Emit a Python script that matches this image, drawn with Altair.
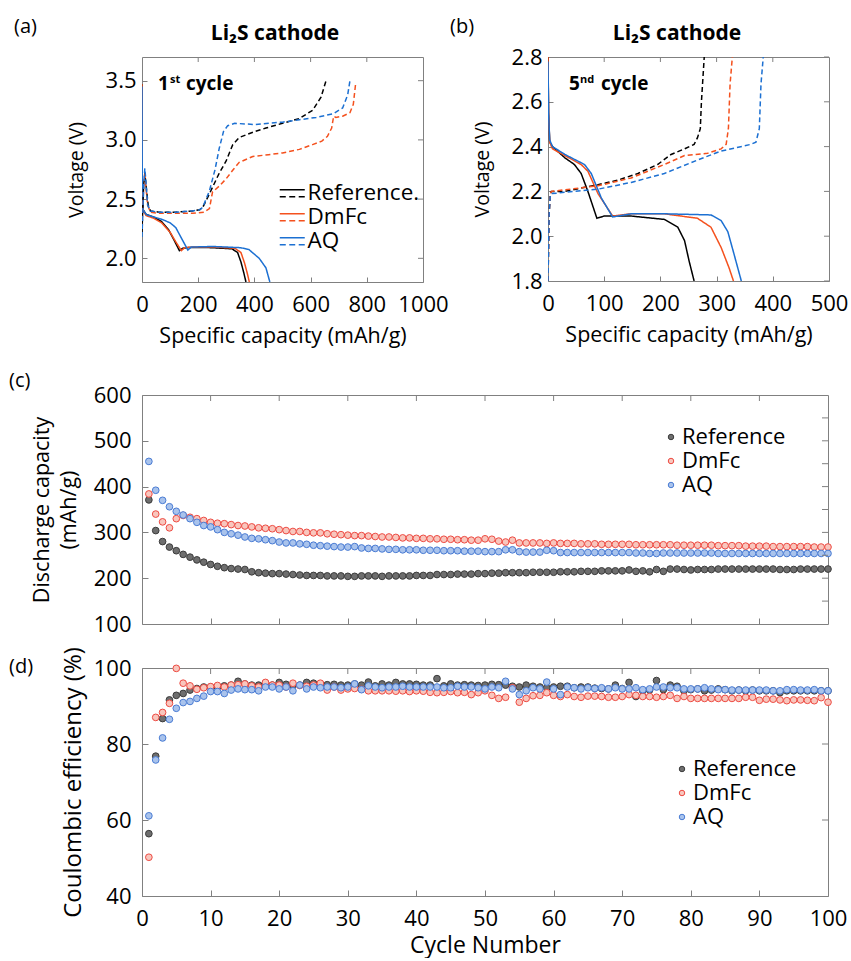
import altair as alt
import pandas as pd

FONT = "Open Sans"
SERIES = ["Reference", "DmFc", "AQ"]
LINE_COLORS = ["#000000", "#F4511E", "#1C70D2"]
PT_FILL = ["#6E6E6E", "#F8C6BD", "#A9C3EC"]
PT_STROKE = ["#3C3C3C", "#EE4B43", "#4A7CD4"]
GRAY = "#808080"

# ---------------- (a) 1st cycle voltage profiles ----------------
a_ref_dis_cap = [0, 1, 4, 15, 40, 70, 95, 115, 133, 145, 170, 250, 320, 340, 352, 362, 370]
a_ref_dis_v = [3.47, 2.60, 2.41, 2.37, 2.35, 2.31, 2.24, 2.15, 2.065, 2.085, 2.092, 2.09, 2.08, 2.05, 1.97, 1.88, 1.80]
a_dmfc_dis_cap = [0, 1, 4, 15, 40, 70, 100, 120, 140, 152, 180, 260, 330, 352, 365, 375, 382]
a_dmfc_dis_v = [3.47, 2.60, 2.40, 2.36, 2.34, 2.30, 2.22, 2.14, 2.065, 2.09, 2.095, 2.095, 2.085, 2.05, 1.96, 1.87, 1.80]
a_aq_dis_cap = [0, 1, 4, 15, 40, 70, 100, 120, 145, 163, 175, 250, 350, 380, 417, 441, 455]
a_aq_dis_v = [3.45, 2.60, 2.41, 2.37, 2.35, 2.33, 2.30, 2.26, 2.15, 2.07, 2.095, 2.10, 2.09, 2.075, 2.00, 1.92, 1.80]

a_ref_ch_cap = [0, 3, 6, 10, 15, 22, 30, 60, 120, 180, 205, 216, 235, 251, 275, 299, 323, 346, 400, 441, 500, 560, 607, 637, 655]
a_ref_ch_v = [2.22, 2.45, 2.62, 2.72, 2.60, 2.45, 2.40, 2.39, 2.39, 2.40, 2.41, 2.43, 2.52, 2.60, 2.72, 2.82, 2.96, 3.02, 3.07, 3.10, 3.14, 3.18, 3.25, 3.36, 3.50]
a_dmfc_ch_cap = [0, 3, 6, 10, 14, 20, 30, 60, 120, 180, 220, 240, 251, 275, 299, 325, 346, 394, 450, 500, 560, 607, 640, 660, 675, 682, 690, 714, 740, 752, 760]
a_dmfc_ch_v = [2.25, 2.45, 2.60, 2.72, 2.60, 2.45, 2.39, 2.38, 2.38, 2.38, 2.39, 2.42, 2.56, 2.61, 2.67, 2.75, 2.81, 2.86, 2.875, 2.89, 2.92, 2.96, 2.99, 3.03, 3.10, 3.20, 3.19, 3.20, 3.23, 3.30, 3.47]
a_aq_ch_cap = [0, 3, 6, 10, 14, 20, 30, 60, 120, 180, 205, 216, 240, 260, 275, 290, 305, 330, 400, 500, 560, 620, 680, 714, 732, 740]
a_aq_ch_v = [2.18, 2.40, 2.60, 2.76, 2.65, 2.45, 2.40, 2.39, 2.39, 2.40, 2.41, 2.43, 2.57, 2.75, 2.93, 3.07, 3.12, 3.14, 3.13, 3.15, 3.17, 3.19, 3.22, 3.27, 3.38, 3.50]

# ---------------- (b) 5th cycle voltage profiles ----------------
b_ref_dis_cap = [0, 1, 3, 8, 30, 47, 59, 71, 87, 100, 148, 207, 231, 243, 251, 260]
b_ref_dis_v = [2.80, 2.55, 2.42, 2.40, 2.35, 2.32, 2.28, 2.20, 2.08, 2.09, 2.09, 2.075, 2.04, 1.98, 1.89, 1.80]
b_dmfc_dis_cap = [0, 1, 3, 8, 30, 59, 71, 89, 115, 148, 207, 266, 290, 308, 322, 330]
b_dmfc_dis_v = [2.80, 2.55, 2.42, 2.39, 2.36, 2.32, 2.29, 2.19, 2.09, 2.10, 2.10, 2.08, 2.04, 1.95, 1.86, 1.80]
b_aq_dis_cap = [0, 1, 3, 8, 30, 65, 77, 95, 115, 148, 207, 290, 308, 320, 331, 344]
b_aq_dis_v = [2.78, 2.55, 2.43, 2.40, 2.365, 2.32, 2.28, 2.17, 2.086, 2.10, 2.10, 2.095, 2.07, 2.02, 1.92, 1.80]

b_ref_ch_cap = [0, 2, 4, 6, 30, 89, 124, 160, 195, 219, 243, 260, 266, 271, 273, 278]
b_ref_ch_v = [1.80, 2.10, 2.19, 2.20, 2.20, 2.23, 2.25, 2.28, 2.32, 2.365, 2.39, 2.41, 2.44, 2.48, 2.60, 2.80]
b_dmfc_ch_cap = [0, 2, 4, 6, 89, 148, 207, 243, 284, 308, 317, 321, 324, 328]
b_dmfc_ch_v = [1.80, 2.10, 2.19, 2.20, 2.225, 2.26, 2.32, 2.36, 2.37, 2.39, 2.41, 2.48, 2.68, 2.80]
b_aq_ch_cap = [0, 2, 4, 6, 89, 148, 207, 266, 308, 361, 370, 376, 379, 383]
b_aq_ch_v = [1.80, 2.10, 2.18, 2.19, 2.21, 2.24, 2.28, 2.34, 2.38, 2.41, 2.42, 2.48, 2.68, 2.80]

# ---------------- (c) discharge capacity vs cycle ----------------
cycles = list(range(1, 101))
c_ref = [371, 304, 280, 268, 260, 252, 246, 240, 235, 230,
         226, 223, 221, 220, 219, 214, 212, 211, 210, 210,
         209, 208, 207, 206, 206, 206, 205, 205, 205, 204,
         204, 205, 205, 205, 204, 205, 205, 205, 205, 206,
         206, 206, 208, 208, 208, 209, 209, 209, 210, 210,
         211, 211, 212, 212, 212, 212, 213, 213, 213, 213,
         214, 214, 214, 215, 215, 215, 216, 216, 216, 216,
         218, 215, 216, 214, 219, 215, 220, 220, 219, 218,
         219, 219, 219, 220, 220, 220, 220, 220, 220, 220,
         220, 220, 219, 219, 219, 220, 220, 220, 220, 220]
c_dmfc = [384, 340, 323, 310, 330, 337, 333, 330, 326, 322,
          320, 319, 317, 315, 314, 312, 310, 309, 308, 306,
          304, 302, 302, 300, 299, 299, 297, 296, 295, 294,
          293, 293, 292, 291, 290, 290, 289, 288, 288, 287,
          287, 286, 286, 285, 285, 284, 284, 283, 283, 286,
          285, 281, 279, 283, 277, 277, 277, 277, 276, 277,
          276, 276, 276, 275, 275, 275, 274, 274, 274, 274,
          274, 273, 273, 273, 273, 273, 273, 272, 272, 272,
          272, 272, 272, 271, 271, 271, 271, 270, 270, 270,
          270, 269, 269, 269, 269, 269, 269, 268, 268, 268]
c_aq = [455, 392, 370, 356, 346, 338, 330, 322, 315, 312,
        306, 300, 297, 294, 290, 287, 286, 284, 282, 279,
        277, 277, 275, 274, 272, 271, 270, 269, 268, 268,
        269, 266, 265, 265, 264, 263, 263, 262, 262, 262,
        261, 261, 261, 260, 260, 260, 259, 259, 259, 258,
        258, 258, 262, 262, 258, 257, 257, 257, 261, 260,
        256, 256, 256, 256, 256, 256, 256, 256, 256, 256,
        256, 255, 255, 254, 254, 255, 255, 255, 255, 255,
        255, 255, 255, 254, 254, 254, 254, 254, 254, 254,
        254, 254, 254, 254, 254, 254, 254, 254, 254, 254]

# ---------------- (d) coulombic efficiency vs cycle ----------------
d_ref = [56.4, 76.8, 86.7, 91.6, 92.8, 93.3, 94.2, 94.6, 95.0, 95.0,
         95.0, 95.3, 95.5, 96.5, 95.8, 95.5, 95.5, 96.0, 95.5, 96.2,
         95.7, 95.5, 95.5, 96.2, 96.0, 95.8, 95.6, 95.7, 95.5, 95.5,
         95.8, 95.5, 96.3, 95.3, 95.8, 95.5, 96.2, 95.8, 95.8, 95.7,
         95.5, 95.5, 97.2, 95.3, 95.8, 95.5, 95.6, 95.5, 95.4, 95.5,
         95.7, 95.6, 95.5, 95.2, 95.0, 95.5, 95.2, 95.0, 94.8, 95.0,
         95.2, 95.2, 94.8, 95.0, 95.0, 94.7, 94.6, 94.5, 95.5, 94.6,
         96.2, 92.5, 94.0, 94.2, 96.7, 94.3, 95.5, 95.2, 94.0, 94.3,
         94.5, 94.0, 94.2, 94.5, 94.3, 94.0, 94.2, 94.0, 94.2, 94.0,
         94.0, 94.0, 93.5, 94.0, 94.0, 94.0, 94.0, 94.0, 94.0, 94.0]
d_dmfc = [50.2, 87.0, 88.3, 90.7, 99.9, 96.0, 95.3, 94.4, 94.8, 95.1,
          95.4, 95.0, 95.5, 95.6, 95.8, 95.3, 95.0, 96.2, 95.5, 95.5,
          95.0, 96.0, 95.4, 95.2, 95.5, 96.0, 94.2, 95.0, 94.2, 94.5,
          94.6, 94.4, 94.0, 94.0, 94.0, 94.0, 93.9, 94.0, 93.8, 94.0,
          93.9, 93.6, 93.5, 93.6, 93.8, 93.5, 93.6, 93.0, 93.5, 94.0,
          92.8, 92.0, 92.3, 94.8, 91.0, 92.0, 92.7, 92.8, 93.5, 92.8,
          92.5, 93.0, 92.5, 92.3, 92.6, 92.6, 92.5, 92.3, 92.3, 92.5,
          93.0, 92.8, 92.5, 92.5, 92.3, 92.5, 92.8, 92.0, 92.5, 92.0,
          92.0, 92.0, 92.0, 92.0, 92.0, 92.0, 92.0, 92.3, 92.3, 91.5,
          91.8, 91.8, 91.6, 91.4, 91.6, 91.6, 91.5, 91.4, 92.2, 91.0]
d_aq = [61.1, 75.8, 81.6, 86.5, 89.4, 90.9, 91.2, 92.0, 92.6, 93.8,
        93.8, 93.3, 94.2, 94.5, 94.3, 94.3, 94.0, 95.0, 95.0, 94.5,
        95.0, 94.0, 95.5, 94.5, 95.0, 94.8, 95.0, 95.0, 94.8, 95.0,
        95.8, 94.3, 95.3, 95.0, 94.8, 95.0, 95.0, 95.2, 95.0, 95.0,
        95.0, 95.0, 95.0, 94.8, 94.8, 95.2, 95.0, 95.0, 94.8, 94.5,
        95.0, 94.8, 96.5, 94.5, 93.0, 94.0, 94.8, 94.5, 96.3, 94.5,
        93.0, 95.0, 94.8, 94.5, 94.8, 94.6, 94.8, 94.5, 94.8, 94.5,
        94.5, 94.8, 94.3, 94.5, 95.0, 95.0, 94.8, 94.8, 94.5, 94.5,
        94.5, 94.8, 94.5, 94.3, 94.3, 94.2, 94.2, 94.2, 94.2, 94.2,
        94.2, 94.0, 94.0, 94.3, 94.3, 94.2, 94.2, 94.3, 94.0, 94.0]


def line_table(curves):
    rows = []
    for (s, kind), (caps, vs) in curves.items():
        for i, (c, v) in enumerate(zip(caps, vs)):
            rows.append({"series": s, "kind": kind, "cap": c, "V": v, "idx": i})
    return pd.DataFrame(rows)


def cycle_table(vals):
    rows = []
    for s, arr in zip(SERIES, vals):
        for cyc, v in zip(cycles, arr):
            rows.append({"series": s, "cycle": cyc, "val": v})
    return pd.DataFrame(rows)


df_a = line_table({
    ("Reference", "discharge"): (a_ref_dis_cap, a_ref_dis_v),
    ("DmFc", "discharge"): (a_dmfc_dis_cap, a_dmfc_dis_v),
    ("AQ", "discharge"): (a_aq_dis_cap, a_aq_dis_v),
    ("Reference", "charge"): (a_ref_ch_cap, a_ref_ch_v),
    ("DmFc", "charge"): (a_dmfc_ch_cap, a_dmfc_ch_v),
    ("AQ", "charge"): (a_aq_ch_cap, a_aq_ch_v),
})
df_b = line_table({
    ("Reference", "discharge"): (b_ref_dis_cap, b_ref_dis_v),
    ("DmFc", "discharge"): (b_dmfc_dis_cap, b_dmfc_dis_v),
    ("AQ", "discharge"): (b_aq_dis_cap, b_aq_dis_v),
    ("Reference", "charge"): (b_ref_ch_cap, b_ref_ch_v),
    ("DmFc", "charge"): (b_dmfc_ch_cap, b_dmfc_ch_v),
    ("AQ", "charge"): (b_aq_ch_cap, b_aq_ch_v),
})
df_c = cycle_table([c_ref, c_dmfc, c_aq])
df_d = cycle_table([d_ref, d_dmfc, d_aq])


def axis(orient, values, labels=True, title=None, T=5, lp=6, tp=10, ext=None, fmt=None, tsize=22, lh=None, lsize=22):
    kw = dict(orient=orient, values=values, labels=labels, title=title, tickSize=T, offset=-T,
              domain=False, grid=False, ticks=True, tickColor=GRAY, tickWidth=1,
              labelFont=FONT, labelFontSize=lsize, labelColor="black", labelPadding=lp,
              labelFlush=False, labelOverlap=False,
              titleFont=FONT, titleFontSize=tsize, titleFontWeight="normal", titleColor="black",
              titlePadding=tp)
    if ext is not None:
        kw["minExtent"] = ext
        kw["maxExtent"] = ext
    if fmt is not None:
        kw["format"] = fmt
    if lh is not None:
        kw["titleLineHeight"] = lh
    return alt.Axis(**kw)


def txt(s, x, y, size, weight="normal", align="left", baseline="alphabetic"):
    return alt.Chart(pd.DataFrame({"t": [s]})).mark_text(
        font=FONT, fontSize=size, fontWeight=weight, align=align, baseline=baseline, color="black"
    ).encode(x=alt.value(x), y=alt.value(y), text="t:N")


def spacer(x, y):
    return alt.Chart(pd.DataFrame({"t": [0]})).mark_rule(opacity=0).encode(
        x=alt.value(x), x2=alt.value(x + 1), y=alt.value(y))


def top_ticks(field, vals, scale, T):
    return alt.Chart(pd.DataFrame({field: vals})).mark_rule(color=GRAY, strokeWidth=1).encode(
        x=alt.X(f"{field}:Q", scale=scale), y=alt.value(0), y2=alt.value(T))


def right_ticks(field, vals, scale, W, T):
    return alt.Chart(pd.DataFrame({field: vals})).mark_rule(color=GRAY, strokeWidth=1).encode(
        y=alt.Y(f"{field}:Q", scale=scale), x=alt.value(W - T), x2=alt.value(W))


LEG_PATH = ("M-1.39,-0.39L1.39,-0.39M-1.39,0.39L-0.72,0.39M-0.33,0.39L0.33,0.39"
            "M0.72,0.39L1.39,0.39")


def voltage_panel(df, xdom, ydom, xvals, xtop, yvals, W, H, label, sp_x, title_cx, cyc_num, num_dx, cyc_sup, sup_dx, cyc_dx, legend):
    xs = alt.Scale(domain=xdom, nice=False, zero=False)
    ys = alt.Scale(domain=ydom, nice=False, zero=False)
    base = alt.Chart(df)
    color_kw = dict(scale=alt.Scale(domain=SERIES, range=LINE_COLORS))
    if legend:
        color_kw["legend"] = alt.Legend(
            title=None, orient="none", legendX=139, legendY=125, padding=0,
            symbolType=LEG_PATH, symbolSize=324, symbolStrokeWidth=1.5,
            labelFont=FONT, labelFontSize=22.5, labelColor="black", labelOffset=4, rowPadding=1,
            labelExpr="datum.label == 'Reference' ? 'Reference.' : datum.label")
    else:
        color_kw["legend"] = None
    lines = base.mark_line(strokeWidth=1.5, clip=True).encode(
        x=alt.X("cap:Q", scale=xs, axis=axis("bottom", xvals, title="Specific capacity (mAh/g)",
                                             T=5, lp=12, tp=13, ext=35, fmt="d", tsize=21.5)),
        y=alt.Y("V:Q", scale=ys, axis=axis("left", yvals, title="Voltage (V)", T=5, lp=6,
                                           tp=11, ext=50, fmt=".1f", tsize=19.5)),
        color=alt.Color("series:N", **color_kw),
        strokeDash=alt.StrokeDash("kind:N", scale=alt.Scale(domain=["discharge", "charge"],
                                                            range=[[1, 0], [5, 3]]), legend=None),
        order="idx:Q",
    )
    layers = [lines,
              top_ticks("cap", xtop, xs, 5),
              right_ticks("V", yvals, ys, W, 5),
              txt(label[0], label[1], -30, 20, baseline="middle"),
              txt("Li\u2082S cathode", title_cx, -23, 21, weight="bold", align="center", baseline="middle"),
              txt(cyc_num, num_dx, 33, 19, weight="bold"),
              txt(cyc_sup, sup_dx, 26, 11, weight="bold"),
              txt("cycle", cyc_dx, 33, 19, weight="bold"),
              spacer(sp_x, -44)]
    return alt.layer(*layers).properties(width=W, height=H)


panel_a = voltage_panel(df_a, [0, 1000], [1.8, 3.7], [0, 200, 400, 600, 800, 1000], [200, 400, 600, 800],
                        [2.0, 2.5, 3.0, 3.5], 281, 225, ("(a)", -128), -136, 133, "1", 16, "st", 28, 44, True)
panel_b = voltage_panel(df_b, [0, 500], [1.8, 2.8], [0, 100, 200, 300, 400, 500], [100, 200, 300, 400],
                        [1.8, 2.0, 2.2, 2.4, 2.6, 2.8], 281, 224, ("(b)", -98), -98, 129, "5", 21, "nd", 32, 53, False)


def cycle_panel(df, ydom, yvals, yright, ytitle, show_x, W, H, label_y, legxy, tp, ext, tsize, lh=None,
                bottom_spacer=None, top_spacer=-26):
    xs = alt.Scale(domain=[0, 100], nice=False, zero=False)
    ys = alt.Scale(domain=ydom, nice=False, zero=False)
    leg = alt.Legend(title=None, orient="none", legendX=legxy[0], legendY=legxy[1], padding=0,
                     symbolType="circle", symbolSize=30, symbolStrokeWidth=1,
                     labelFont=FONT, labelFontSize=22, labelColor="black", labelOffset=0, rowPadding=2)
    base = alt.Chart(df)
    if show_x:
        xax = axis("bottom", list(range(0, 101, 10)), title="Cycle Number", T=6, lp=12, tp=9, ext=35,
                   fmt="d", tsize=23)
    else:
        xax = axis("bottom", list(range(10, 100, 10)), labels=False, T=6)
    pts = base.mark_circle(size=45, strokeWidth=1, opacity=1).encode(
        x=alt.X("cycle:Q", scale=xs, axis=xax),
        y=alt.Y("val:Q", scale=ys, axis=axis("left", yvals, title=ytitle, T=6, lp=11, tp=tp, ext=ext,
                                             fmt="d", tsize=tsize, lh=lh)),
        fill=alt.Fill("series:N", scale=alt.Scale(domain=SERIES, range=PT_FILL), legend=leg),
        stroke=alt.Stroke("series:N", scale=alt.Scale(domain=SERIES, range=PT_STROKE), legend=leg),
    )
    layers = [pts,
              top_ticks("cycle", list(range(10, 100, 10)), xs, 6),
              right_ticks("val", yright, ys, W, 6),
              txt(label_y[0], -133, label_y[1], 20, baseline="middle"),
              spacer(-136, top_spacer)]
    if bottom_spacer is not None:
        layers.append(spacer(-136, H + bottom_spacer))
    return alt.layer(*layers).properties(width=W, height=H)


panel_c = cycle_panel(df_c, [100, 600], [100, 200, 300, 400, 500, 600],
                      [150, 200, 250, 300, 350, 400, 450, 500, 550],
                      ["Discharge capacity", "(mAh/g)"], False, 686, 229, ("(c)", -14), (518, 31),
                      tp=8, ext=60, tsize=21.5, lh=27, bottom_spacer=8, top_spacer=-37)
panel_d = cycle_panel(df_d, [40, 100], [40, 60, 80, 100], [60, 80],
                      "Coulombic efficiency (%)", True, 686, 228, ("(d)", -1), (529, 90),
                      tp=8, ext=55, tsize=24, top_spacer=-13)

IND = dict(color="independent", fill="independent", stroke="independent", strokeDash="independent")
row1 = alt.hconcat(panel_a, panel_b, spacing=0).resolve_scale(**IND).resolve_legend(**IND)
chart = alt.concat(row1, panel_c, panel_d, columns=1, spacing=10, align="none").resolve_scale(
    **IND).resolve_legend(**IND).properties(
    padding={"left": 5, "top": 12, "right": 0, "bottom": 0},
    background="white",
).configure_view(stroke=GRAY, strokeWidth=1)

chart.save("out.html", embed_options={"renderer": "svg", "actions": False})
